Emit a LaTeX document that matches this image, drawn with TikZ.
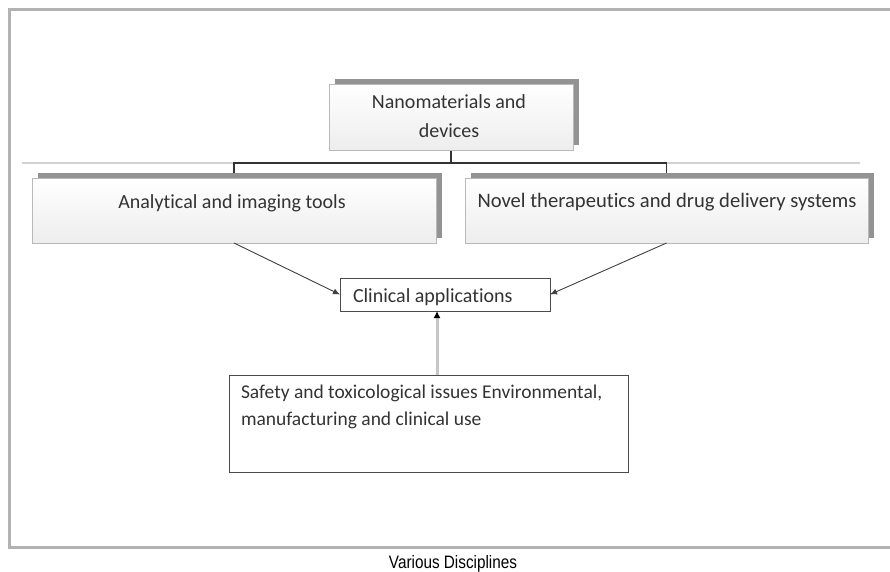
\documentclass[tikz,border=0pt]{standalone}
\usepackage{fontspec}
\newfontfamily\boxfont[Ligatures={NoCommon}]{Carlito}
\newfontfamily\capfont[FakeStretch=0.85]{Liberation Sans}
\usetikzlibrary{arrows.meta,calc}
\tikzset{
  shadowbox/.style={draw=gray!55, line width=0.8pt, top color=white, bottom color=gray!14,
    inner sep=0pt, outer sep=0pt,
    preaction={fill=gray!85, transform canvas={shift={(6pt,5pt)}}}},
  plainbox/.style={draw=black!70, line width=1pt, fill=white, inner sep=0pt, outer sep=0pt},
  txt/.style={inner sep=0pt, outer sep=0pt, text=black!80},
  hline/.style={draw=gray!40!black, line width=1.4pt},
  faint/.style={draw=gray!35, line width=1.2pt},
  conn/.style={draw=black!75, line width=0.9pt, -{Latex[length=7pt,width=6pt]}},
  upconn/.style={draw=gray!45, line width=3pt, -{Latex[black,length=7pt,width=7pt]}},
  frame/.style={draw=gray!60, line width=3pt}
}
\begin{document}
\begin{tikzpicture}[x=1pt,y=-1pt]
\useasboundingbox (0,0) rectangle (890,571);
\fill[white] (0,0) rectangle (890,571);
% outer frame (open on the right, cut by the image edge)
\coordinate (f1) at (890,9);
\coordinate (f2) at (9,9);
\coordinate (f3) at (9,547);
\coordinate (f4) at (890,547);
\draw[frame] (f1) -- (f2) -- (f3) -- (f4);

% helper coordinates
\coordinate (h) at (0,163);
\coordinate (hl) at (22,163);
\coordinate (hr) at (860,163);
\coordinate (v) at (437,0);

% boxes (positions)
\path (451,117) coordinate (Tpos)
      (234,210.5) coordinate (Lpos)
      (666.5,210.5) coordinate (Rpos);

% connectors of the tree (drawn first, boxes cover ends)
\node[minimum width=244pt, minimum height=66pt, inner sep=0pt, outer sep=0pt] (T) at (Tpos) {};
\node[minimum width=404pt, minimum height=65pt, inner sep=0pt, outer sep=0pt] (L) at (Lpos) {};
\node[minimum width=403pt, minimum height=65pt, inner sep=0pt, outer sep=0pt] (R) at (Rpos) {};
\draw[faint] (hl) -- (L.north |- h);
\draw[faint] (R.north |- h) -- (hr);
\draw[hline] (T.south) -- (T.south |- h);
\draw[hline] (L.north) -- (L.north |- h) -- (R.north |- h) -- (R.north);

% shaded boxes with shadow
\node[shadowbox, minimum width=244pt, minimum height=66pt] (Tb) at (Tpos) {};
\node[shadowbox, minimum width=404pt, minimum height=65pt] (Lb) at (Lpos) {};
\node[shadowbox, minimum width=403pt, minimum height=65pt] (Rb) at (Rpos) {};

% plain boxes
\node[plainbox, minimum width=210pt, minimum height=33pt] (C) at (445,294.5) {};
\node[plainbox, minimum width=399pt, minimum height=97pt] (S) at (428.5,423.5) {};

% texts (multi-line nodes: base = last line)
\node[txt, anchor=base, align=center, font=\boxfont\fontsize{20}{29}\selectfont] (Tt) at (449,137) {Nanomaterials and\\devices};
\node[txt, anchor=base, font=\boxfont\fontsize{20}{24}\selectfont] (Lt) at (232,208) {Analytical and imaging tools};
\node[txt, anchor=base, font=\boxfont\fontsize{20.6}{24}\selectfont] (Rt) at (667,207) {Novel therapeutics and drug delivery systems};
\node[txt, anchor=base west, font=\boxfont\fontsize{20}{24}\selectfont] (Ct) at (353,302) {Clinical applications};
\node[txt, anchor=base west, align=left, font=\boxfont\fontsize{19.5}{27}\selectfont] (St) at (241,425) {Safety and toxicological issues Environmental,\\manufacturing and clinical use};

% arrows
\draw[conn] (L.south) -- (C.west);
\draw[conn] (R.south) -- (C.east);
\draw[upconn] (S.north -| v) -- (C.south -| v);

% caption
\node[anchor=base, font=\capfont\fontsize{18}{20}\selectfont, inner sep=0pt] (cap) at (453,568) {Various Disciplines};
\end{tikzpicture}
\end{document}
